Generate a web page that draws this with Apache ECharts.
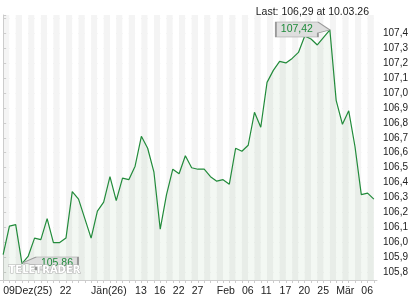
<!DOCTYPE html>
<html>
<head>
<meta charset="utf-8">
<script src="https://cdn.jsdelivr.net/npm/echarts@6/dist/echarts.min.js"></script>
<style>html,body{margin:0;padding:0;background:#fff}#c{width:420px;height:300px}</style>
</head>
<body>
<div id="c"></div>
<script>
const dates = [
  '2025-12-09','2025-12-10','2025-12-11','2025-12-12','2025-12-15','2025-12-16','2025-12-17','2025-12-18','2025-12-19','2025-12-22',
  '2025-12-23','2025-12-29','2025-12-30','2025-12-31','2026-01-02','2026-01-05','2026-01-06','2026-01-07','2026-01-08','2026-01-09',
  '2026-01-12','2026-01-13','2026-01-14','2026-01-15','2026-01-16','2026-01-20','2026-01-21','2026-01-22','2026-01-23','2026-01-26',
  '2026-01-27','2026-01-28','2026-01-29','2026-01-30','2026-02-02','2026-02-03','2026-02-04','2026-02-05','2026-02-06','2026-02-09',
  '2026-02-10','2026-02-11','2026-02-12','2026-02-13','2026-02-17','2026-02-18','2026-02-19','2026-02-20','2026-02-23','2026-02-24',
  '2026-02-25','2026-02-26','2026-02-27','2026-03-02','2026-03-03','2026-03-04','2026-03-05','2026-03-06','2026-03-09','2026-03-10'
];
const prices = [
  105.92,106.11,106.12,105.86,105.91,106.03,106.02,106.16,106.00,106.00,
  106.03,106.34,106.29,106.16,106.03,106.21,106.27,106.44,106.28,106.43,
  106.42,106.51,106.71,106.63,106.47,106.09,106.32,106.49,106.46,106.58,
  106.50,106.49,106.49,106.44,106.41,106.42,106.39,106.63,106.61,106.65,
  106.87,106.77,107.07,107.15,107.21,107.20,107.23,107.27,107.38,107.36,
  107.32,107.37,107.42,106.95,106.79,106.88,106.64,106.32,106.33,106.29
];
const labelDates = ['2025-12-09','2025-12-22','2026-01-02','2026-01-13','2026-01-16','2026-01-22','2026-01-27','2026-02-02','2026-02-06','2026-02-11','2026-02-17','2026-02-20','2026-02-25','2026-03-02','2026-03-06'];
const labelTexts = ['09Dez(25)','22','Jän(26)','13','16','22','27','Feb','06','11','17','20','25','Mär','06'];
const titleText = 'Last: 106,29 at 10.03.26';
const watermark = 'TELETRADER';

const fmt = v => v.toFixed(2).replace('.', ',');
const FONT = 'Liberation Sans, Arial, sans-serif';
const chart = echarts.init(document.getElementById('c'), null, {renderer: 'canvas'});
chart.setOption({
  animation: false,
  backgroundColor: '#ffffff',
  title: {
    text: titleText, right: 46, top: 2,
    textStyle: {fontSize: 10.5, fontWeight: 'normal', color: '#222', fontFamily: FONT}
  },
  grid: {left: 0, right: 43, top: 15, bottom: 20},
  xAxis: [{
    type: 'category', data: dates, boundaryGap: true,
    axisLine: {lineStyle: {color: '#cccccc'}},
    axisTick: {show: true, alignWithLabel: true, interval: 0, length: 3, lineStyle: {color: '#cccccc'}},
    axisLabel: {
      interval: (i, v) => labelDates.indexOf(v) >= 0,
      formatter: v => labelTexts[labelDates.indexOf(v)] || '',
      align: 'left', margin: 6, fontSize: 10.5, color: '#222', fontFamily: FONT
    },
    splitLine: {show: false}
  }, {
    type: 'value', min: -0.5, max: dates.length - 0.5, splitNumber: dates.length,
    minInterval: 1, maxInterval: 1, position: 'bottom',
    axisLine: {show: false}, axisTick: {show: false}, axisLabel: {show: false},
    splitLine: {show: false},
    splitArea: {show: true, areaStyle: {color: ['#ffffff', '#f4f4f4']}}
  }],
  yAxis: {
    type: 'value', position: 'right', min: 105.75, max: 107.52,
    splitNumber: 17, minInterval: 0.1, maxInterval: 0.1,
    axisLine: {show: true, lineStyle: {color: '#cccccc'}},
    axisTick: {show: true, length: 3, lineStyle: {color: '#cccccc'}},
    axisLabel: {
      margin: 6, fontSize: 10, color: '#222', fontFamily: FONT,
      formatter: v => {
        const r = Math.round(v * 10) / 10;
        if (Math.abs(v - r) > 1e-6 || r > 107.45) return '';
        return r.toFixed(1).replace('.', ',');
      }
    },
    splitLine: {show: true, showMinLine: false, showMaxLine: false, lineStyle: {color: '#e2e2e2'}}
  },
  series: [{
    type: 'line', data: prices, xAxisIndex: 0, symbol: 'none',
    lineStyle: {color: '#228b3b', width: 1.2},
    areaStyle: {color: 'rgba(40,120,40,0.08)'},
    z: 3,
    markPoint: {
      z: 5,
      data: [
        {type: 'max', symbol: 'path://M0,0 L42,0 L54,8 L42,11 L42,15 L0,15 Z', symbolSize: [54, 15], symbolOffset: [-27, -0.5],
         label: {offset: [-6, 0]}},
        {type: 'min', symbol: 'path://M0,6 L14,0 L56,0 L56,13 L14,13 L14,8 Z', symbolSize: [56, 13], symbolOffset: [28, 0],
         label: {offset: [7, 0]}}
      ],
      itemStyle: {color: '#dedede', borderColor: '#999999', borderWidth: 1},
      label: {show: true, position: 'inside', color: '#1e8a3a', fontSize: 10.5, fontFamily: FONT,
        formatter: p => fmt(p.value)}
    }
  }],
  graphic: [{
    type: 'text', left: 8, top: 265, z: 100, silent: true,
    style: {text: watermark, fill: '#ffffff', stroke: '#b0b0b0', lineWidth: 1,
      font: 'bold 10px "DejaVu Sans", sans-serif'}
  }]
});
</script>
</body>
</html>
